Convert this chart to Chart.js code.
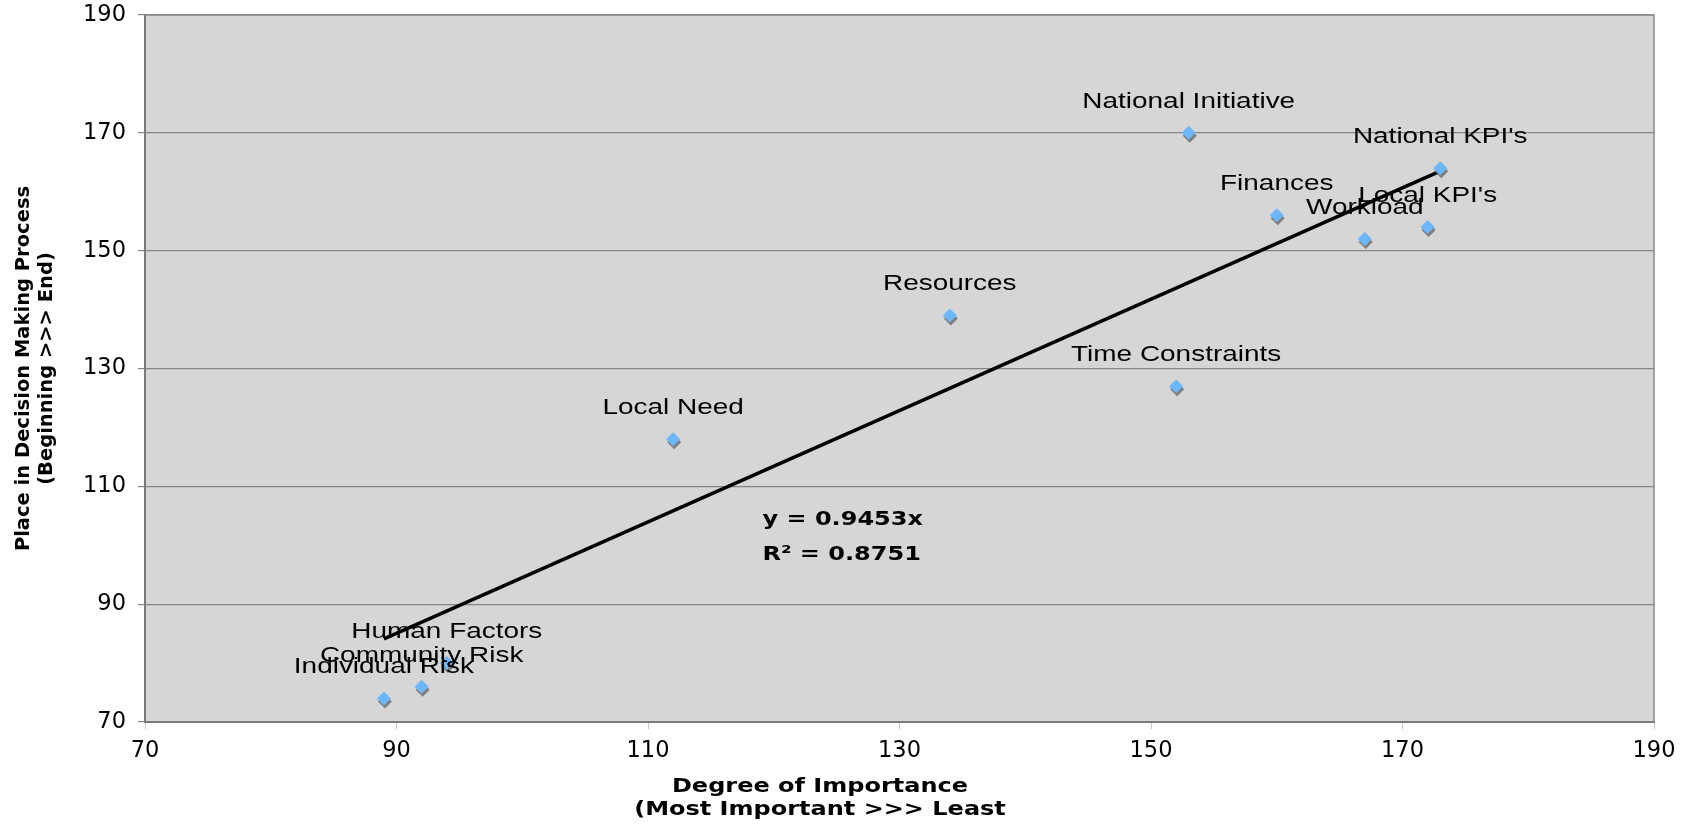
<!DOCTYPE html>
<html lang="en">
<head>
  <meta charset="UTF-8" />
  <title>Degree of Importance vs Place in Decision Making Process</title>
  <script src="https://cdn.jsdelivr.net/npm/chart.js"></script>
  <style>
    html, body { margin: 0; padding: 0; background: #fff; }
    #wrap { width: 1683px; height: 825px; }
  </style>
</head>
<body>
  <div id="wrap"><canvas id="chart"></canvas></div>

  <script>
    // one entry per factor
    const factors = ['Individual Risk', 'Community Risk', 'Human Factors', 'Local Need', 'Resources',
      'Time Constraints', 'National Initiative', 'Finances', 'Workload', "Local KPI's", "National KPI's"];
    const importance = [89, 92, 94, 112, 134, 152, 153, 160, 167, 172, 173];
    const placeInProcess = [74, 76, 80, 118, 139, 127, 170, 156, 152, 154, 164];

    // Excel linear trend (through origin), drawn between lowest and highest x
    const trendX = [89, 173];
    const trendY = [84.1, 163.5];
    const trendText = ['y = 0.9453x', 'R² = 0.8751'];

    const axisMin = 70;
    const axisMax = 190;
    const axisStep = 20;

    const xTitle = ['Degree of Importance', '(Most Important >>> Least'];
    const yTitle = ['Place in Decision Making Process', '(Beginning >>> End)'];

    // draws stretched text, the picture was widened when it was saved
    function wideText(ctx, txt, x, y, font, sx) {
      ctx.save();
      ctx.translate(x, y);
      ctx.scale(sx, 1);
      ctx.font = font;
      ctx.fillStyle = '#000';
      ctx.textAlign = 'center';
      ctx.textBaseline = 'alphabetic';
      ctx.fillText(txt, 0, 0);
      ctx.restore();
    }

    const plotArea = {
      id: 'plotArea',
      beforeDraw(chart) {
        const { ctx, chartArea: a } = chart;
        ctx.save();
        ctx.fillStyle = '#d6d6d6';
        ctx.fillRect(a.left, a.top, a.right - a.left, a.bottom - a.top);
        ctx.restore();
      },
      afterDraw(chart) {
        const { ctx, chartArea: a } = chart;
        ctx.save();
        ctx.strokeStyle = '#8c8c8c';
        ctx.lineWidth = 1.5;
        ctx.beginPath();
        ctx.moveTo(a.left, a.top);
        ctx.lineTo(a.right, a.top);
        ctx.lineTo(a.right, a.bottom);
        ctx.stroke();
        ctx.restore();
      }
    };

    // grey drop shadow under the diamonds
    const markerShadow = {
      id: 'markerShadow',
      beforeDatasetDraw(chart, args) {
        if (args.index !== 0) return;
        const ctx = chart.ctx;
        ctx.save();
        ctx.shadowColor = 'rgba(110,110,110,0.85)';
        ctx.shadowOffsetX = 1;
        ctx.shadowOffsetY = 3;
        ctx.shadowBlur = 0;
      },
      afterDatasetDraw(chart, args) {
        if (args.index !== 0) return;
        chart.ctx.restore();
      }
    };

    const pointLabels = {
      id: 'pointLabels',
      afterDatasetsDraw(chart) {
        const ctx = chart.ctx;
        const meta = chart.getDatasetMeta(0);
        meta.data.forEach((pt, i) => {
          wideText(ctx, factors[i], pt.x, pt.y - 25, '21.5px "Liberation Sans", Arial', 1.3);
        });

        // trend equation
        const xs = chart.scales.x, ys = chart.scales.y;
        const ex = xs.getPixelForValue(119.1);
        const ey = ys.getPixelForValue(103.4);
        ctx.save();
        ctx.translate(ex, ey);
        ctx.scale(1.2, 1);
        ctx.font = 'bold 20px "DejaVu Sans", Verdana';
        ctx.fillStyle = '#000';
        ctx.textAlign = 'left';
        ctx.fillText(trendText[0], 0, 0);
        ctx.fillText(trendText[1], 0, 35);
        ctx.restore();

        // x axis title, Excel left it off-centre
        xTitle.forEach((t, i) => {
          wideText(ctx, t, 820, 792 + i * 23, 'bold 20px "DejaVu Sans", Verdana', 1.2);
        });
      }
    };

    new Chart(document.getElementById('chart'), {
      type: 'scatter',
      data: {
        datasets: [
          {
            label: 'Factors',
            data: importance.map((x, i) => ({ x, y: placeInProcess[i] })),
            pointStyle: 'rectRot',
            pointRadius: 7,
            pointHoverRadius: 7,
            backgroundColor: '#6cb6fa',
            borderColor: '#6cb6fa',
            borderWidth: 0
          },
          {
            type: 'line',
            label: 'Linear',
            data: trendX.map((x, i) => ({ x, y: trendY[i] })),
            borderColor: '#000',
            borderWidth: 3.5,
            pointRadius: 0,
            fill: false,
            tension: 0
          }
        ]
      },
      plugins: [plotArea, markerShadow, pointLabels],
      options: {
        responsive: true,
        maintainAspectRatio: false,
        animation: false,
        layout: { padding: { top: 15, right: 29, bottom: 0, left: 0 } },
        plugins: {
          legend: { display: false },
          tooltip: { enabled: false }
        },
        scales: {
          x: {
            type: 'linear',
            min: axisMin,
            max: axisMax,
            ticks: {
              stepSize: axisStep,
              color: '#000',
              padding: 9,
              font: { family: '"DejaVu Sans", Verdana', size: 22.5 }
            },
            grid: {
              drawOnChartArea: false,
              drawTicks: true,
              tickLength: 7,
              color: '#c8c8c8'
            },
            border: { color: '#7a7a7a', width: 2 },
            afterFit(s) {
              s.height = 103;
              s.paddingLeft = 0;
              s.paddingRight = 0;
            }
          },
          y: {
            type: 'linear',
            min: axisMin,
            max: axisMax,
            ticks: {
              stepSize: axisStep,
              color: '#000',
              padding: 12,
              font: { family: '"DejaVu Sans", Verdana', size: 22.5 }
            },
            grid: {
              color: '#858585',
              lineWidth: 1.2,
              drawTicks: true,
              tickLength: 7
            },
            border: { color: '#7a7a7a', width: 2 },
            title: {
              display: true,
              text: yTitle,
              color: '#000',
              padding: { top: 13, bottom: 0 },
              font: { family: '"DejaVu Sans", Verdana', size: 19.5, weight: 'bold', lineHeight: 1.15 }
            },
            afterFit(s) {
              s.width = 145;
              s.paddingTop = 0;
              s.paddingBottom = 0;
            }
          }
        }
      }
    });
  </script>
</body>
</html>
